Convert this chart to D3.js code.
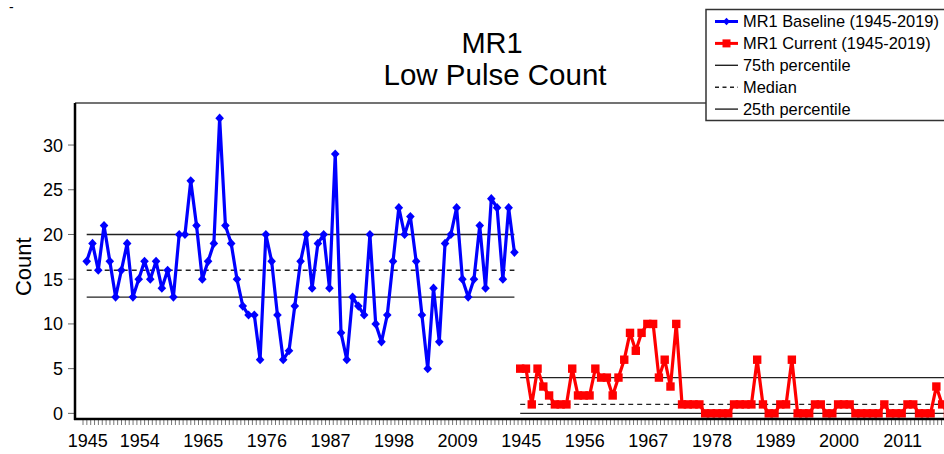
<!DOCTYPE html>
<html>
<head>
<meta charset="utf-8">
<script src="https://cdn.jsdelivr.net/npm/d3@7"></script>
<style>
  html, body { margin: 0; padding: 0; background: #fff; }
  svg { display: block; font-family: "Liberation Sans", Arial, sans-serif; }
</style>
</head>
<body>
<svg id="chart" width="944" height="454"></svg>
<script>
// Annual low pulse counts, 1945-2019, for the two scenarios
const baselineYears = d3.range(1945, 2020);
const currentYears = d3.range(1945, 2020);

const baselineCounts = [
  17, 19, 16, 21, 17, 13, 16, 19, 13, 15,
  17, 15, 17, 14, 16, 13, 20, 20, 26, 21,
  15, 17, 19, 33, 21, 19, 15, 12, 11, 11,
  6, 20, 17, 11, 6, 7, 12, 17, 20, 14,
  19, 20, 14, 29, 9, 6, 13, 12, 11, 20,
  10, 8, 11, 17, 23, 20, 22, 17, 11, 5,
  14, 8, 19, 20, 23, 15, 13, 15, 21, 14,
  24, 23, 15, 23, 18
];

const currentCounts = [
  5, 5, 1, 5, 3, 2, 1, 1, 1, 5,
  2, 2, 2, 5, 4, 4, 2, 4, 6, 9,
  7, 9, 10, 10, 4, 6, 3, 10, 1, 1,
  1, 1, 0, 0, 0, 0, 0, 1, 1, 1,
  1, 6, 1, 0, 0, 1, 1, 6, 0, 0,
  0, 1, 1, 0, 0, 1, 1, 1, 0, 0,
  0, 0, 0, 1, 0, 0, 0, 1, 1, 0,
  0, 0, 3, 1, 0
];

// 75th percentile, median, 25th percentile of each series
const baselineStats = [20, 16, 13];
const currentStats = [4, 1, 0];

// Labelled years on the shared category axis
const baselineTickYears = [1945, 1954, 1965, 1976, 1987, 1998, 2009];
const currentTickYears = [1945, 1956, 1967, 1978, 1989, 2000, 2011];

const yTicks = [0, 5, 10, 15, 20, 25, 30];

const legendLabels = [
  "MR1 Baseline (1945-2019)",
  "MR1 Current (1945-2019)",
  "75th percentile",
  "Median",
  "25th percentile"
];

const BLUE = "#0000ff";
const RED = "#ff0000";

const svg = d3.select("#chart");

const nBase = baselineCounts.length;
const nCur = currentCounts.length;
const nAll = nBase + nCur;

const plot = { left: 75, top: 103, right: 960, bottom: 419 };

const x = d3.scaleLinear().domain([0, nAll - 1]).range([86.7, 86.7 + 5.78 * (nAll - 1)]);
const y = d3.scaleLinear().domain([-0.63, 34.7]).range([plot.bottom, plot.top]);

// Title
svg.append("text").attr("x", 492).attr("y", 53).attr("text-anchor", "middle")
  .attr("font-size", 29).attr("fill", "#000").text("MR1");
svg.append("text").attr("x", 495).attr("y", 85).attr("text-anchor", "middle")
  .attr("font-size", 29.5).attr("fill", "#000").text("Low Pulse Count");

svg.append("text").attr("x", 9).attr("y", 12).attr("font-size", 14).text("-");

// Y axis ticks and labels
const yAxis = svg.append("g");
yTicks.forEach(t => {
  yAxis.append("line").attr("x1", 68).attr("x2", plot.left).attr("y1", y(t)).attr("y2", y(t))
    .attr("stroke", "#666").attr("stroke-width", 1);
  yAxis.append("text").attr("x", 63).attr("y", y(t) + 6.5).attr("text-anchor", "end")
    .attr("font-size", 18).attr("fill", "#000").text(t);
});

svg.append("text")
  .attr("transform", `translate(31,${(y(15) + y(16)) / 2 - 8}) rotate(-90)`)
  .attr("text-anchor", "middle").attr("font-size", 22).attr("fill", "#000").text("Count");

// Minor ticks along the category axis
const minor = d3.range(plot.left + 8, 944, 3.85);
svg.append("g").selectAll("line").data(minor).join("line")
  .attr("x1", d => d).attr("x2", d => d)
  .attr("y1", plot.bottom + 1).attr("y2", plot.bottom + 6)
  .attr("stroke", "#777").attr("stroke-width", 1);

// X labels
const xLabels = [
  ...baselineTickYears.map(yr => ({ idx: baselineYears.indexOf(yr), label: yr })),
  ...currentTickYears.map(yr => ({ idx: nBase + currentYears.indexOf(yr), label: yr }))
];
svg.append("g").selectAll("text").data(xLabels).join("text")
  .attr("x", d => x(d.idx) + 1).attr("y", 447).attr("text-anchor", "middle")
  .attr("font-size", 18).attr("fill", "#000").text(d => d.label);

// Frame: top border
svg.append("line").attr("x1", plot.left).attr("x2", 944).attr("y1", plot.top).attr("y2", plot.top)
  .attr("stroke", "#444").attr("stroke-width", 1.5);

// Percentile reference lines
function statLines(stats, i0, i1) {
  const g = svg.append("g");
  stats.forEach((v, k) => {
    g.append("line").attr("x1", x(i0)).attr("x2", x(i1)).attr("y1", y(v)).attr("y2", y(v))
      .attr("stroke", "#222").attr("stroke-width", 1.4)
      .attr("stroke-dasharray", k === 1 ? "5,4" : null);
  });
}
statLines(baselineStats, 0, nBase - 1);
statLines(currentStats, nBase, nAll - 1 + 2);

// Series lines and markers
const line = d3.line().x(d => x(d.i)).y(d => y(d.v));
const baseData = baselineCounts.map((v, i) => ({ i, v }));
const curData = currentCounts.map((v, i) => ({ i: nBase + i, v }));

svg.append("path").datum(baseData).attr("d", line)
  .attr("fill", "none").attr("stroke", BLUE).attr("stroke-width", 3.2).attr("stroke-linejoin", "round");
svg.append("path").datum(curData).attr("d", line)
  .attr("fill", "none").attr("stroke", RED).attr("stroke-width", 3.2).attr("stroke-linejoin", "round");

const diamond = (cx, cy, w, h) => `M${cx},${cy - h}L${cx + w},${cy}L${cx},${cy + h}L${cx - w},${cy}Z`;
svg.append("g").selectAll("path").data(baseData).join("path")
  .attr("d", d => diamond(x(d.i), y(d.v), 4.3, 4.6)).attr("fill", BLUE);
svg.append("g").selectAll("rect").data(curData).join("rect")
  .attr("x", d => x(d.i) - 4.2).attr("y", d => y(d.v) - 4.2)
  .attr("width", 8.4).attr("height", 8.4).attr("fill", RED);

// Axis lines drawn over the marks
svg.append("line").attr("x1", plot.left).attr("x2", plot.left).attr("y1", plot.top).attr("y2", plot.bottom + 1)
  .attr("stroke", "#000").attr("stroke-width", 2.5);
svg.append("line").attr("x1", plot.left - 1).attr("x2", 944).attr("y1", plot.bottom).attr("y2", plot.bottom)
  .attr("stroke", "#000").attr("stroke-width", 2.5);

// Legend
const lg = svg.append("g");
lg.append("rect").attr("x", 706).attr("y", 9.5).attr("width", 260).attr("height", 111)
  .attr("fill", "#fff").attr("stroke", "#333").attr("stroke-width", 1.5);
legendLabels.forEach((lab, k) => {
  const cy = 21.5 + k * 21.9;
  const l = lg.append("line").attr("x1", 715).attr("x2", 738).attr("y1", cy).attr("y2", cy)
    .attr("stroke-width", k < 2 ? 3 : 1.4);
  if (k === 0) {
    l.attr("stroke", BLUE);
    lg.append("path").attr("d", diamond(726.5, cy, 3.5, 3.8)).attr("fill", BLUE);
  } else if (k === 1) {
    l.attr("stroke", RED);
    lg.append("rect").attr("x", 722.5).attr("y", cy - 4).attr("width", 8).attr("height", 8).attr("fill", RED);
  } else {
    l.attr("stroke", "#222");
    if (k === 3) l.attr("stroke-dasharray", "4,3.5");
  }
  lg.append("text").attr("x", 743).attr("y", cy + 5.8).attr("font-size", 16.4).attr("fill", "#000").text(lab);
});
</script>
</body>
</html>
